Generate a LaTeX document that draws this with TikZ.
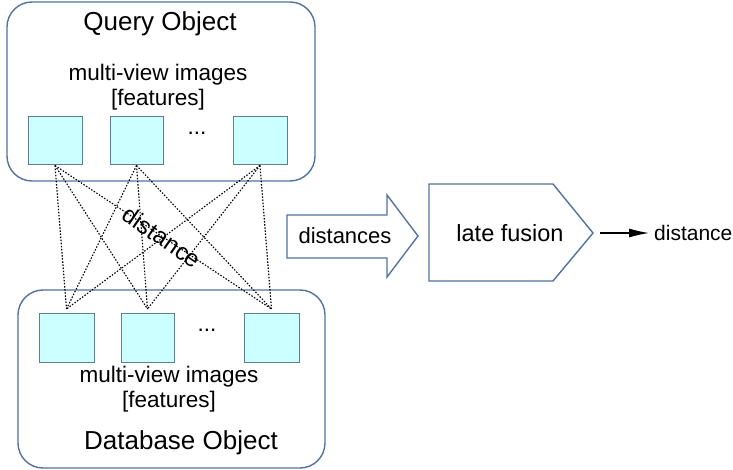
\documentclass[tikz,border=0pt]{standalone}
\usepackage{fontspec}
\setmainfont{Liberation Sans}
\usetikzlibrary{arrows.meta}
\definecolor{boxc}{HTML}{5272A0}
\definecolor{sqline}{HTML}{5E7E94}
\definecolor{sqfill}{HTML}{CCFFFF}
\tikzset{
  objbox/.style={draw=boxc, line width=1.4pt, rounded corners=25pt},
  sq/.style={draw=sqline, fill=sqfill, line width=1pt, minimum width=54pt, minimum height=48pt, inner sep=0pt},
  sqb/.style={sq, outer ysep=4pt},
  dist/.style={line width=1.1pt, dash pattern=on 1.5pt off 1.6pt},
  title/.style={font=\fontsize{26}{30}\selectfont},
  lbl/.style={font=\fontsize{22.5}{25}\selectfont, align=center, inner sep=0pt},
  shapec/.style={draw=boxc, line width=1.4pt},
}
\begin{document}
\begin{tikzpicture}[x=1pt,y=-1pt]
\useasboundingbox (0,0) rectangle (733,470);
% boxes
\draw[objbox] (7,2) rectangle (315,181);
\draw[objbox] (18,290) rectangle (325,468);
\node[title] (qo) at (160,24) {Query Object};
\node[lbl] (qm) at (158,75) {multi-view images};
\node[lbl] (qf) at (158,100) {[features]};
\node[title] (dbo) at (181,443) {Database Object};
\node[lbl] (dm) at (169,377) {multi-view images};
\node[lbl] (df) at (169,402) {[features]};
% squares
\node[sq] (t1) at (55,141) {};
\node[sq, minimum width=53pt] (t2) at (136.5,141) {};
\node[sq] (t3) at (260,141) {};
\node[lbl] (td) at (197,133) {...};
\node[sqb, minimum width=55pt, minimum height=49pt] (b1) at (66.5,337.5) {};
\node[sqb, minimum width=53pt, minimum height=49pt] (b2) at (147.5,337.5) {};
\node[sqb, minimum width=55pt, minimum height=49pt] (b3) at (271.5,337.5) {};
\node[lbl] (bd) at (207,330) {...};
% dotted connections
\foreach \t in {t1,t2,t3}{
  \foreach \b in {b1,b2,b3}{
    \draw[dist] (\t.south) -- (\b.north);
  }
}
\node[font=\fontsize{24}{26}\selectfont, rotate=-34.5, inner sep=0pt] (dl) at (162,237) {distance};
% distances arrow
\draw[shapec] (287,215) -- (387,215) -- (387,195) -- (418,236) -- (387,277) -- (387,258) -- (287,258) -- cycle;
\node[font=\fontsize{22}{24}\selectfont, inner sep=0pt] (ds) at (345,236) {distances};
% late fusion
\draw[shapec] (429,184) -- (553,184) -- (593,233) -- (553,281) -- (429,281) -- cycle;
\node[font=\fontsize{23.5}{26}\selectfont, inner sep=0pt] (lf) at (510,233) {late fusion};
\coordinate (lftip) at (600,233);
\node[font=\fontsize{21}{24}\selectfont, anchor=west, inner sep=0pt] (out) at (654,233) {distance};
\draw[line width=1.1pt, -{Latex[length=20pt,width=9pt]}] (lftip) -- ([xshift=-5pt]out.west);
\end{tikzpicture}
\end{document}
